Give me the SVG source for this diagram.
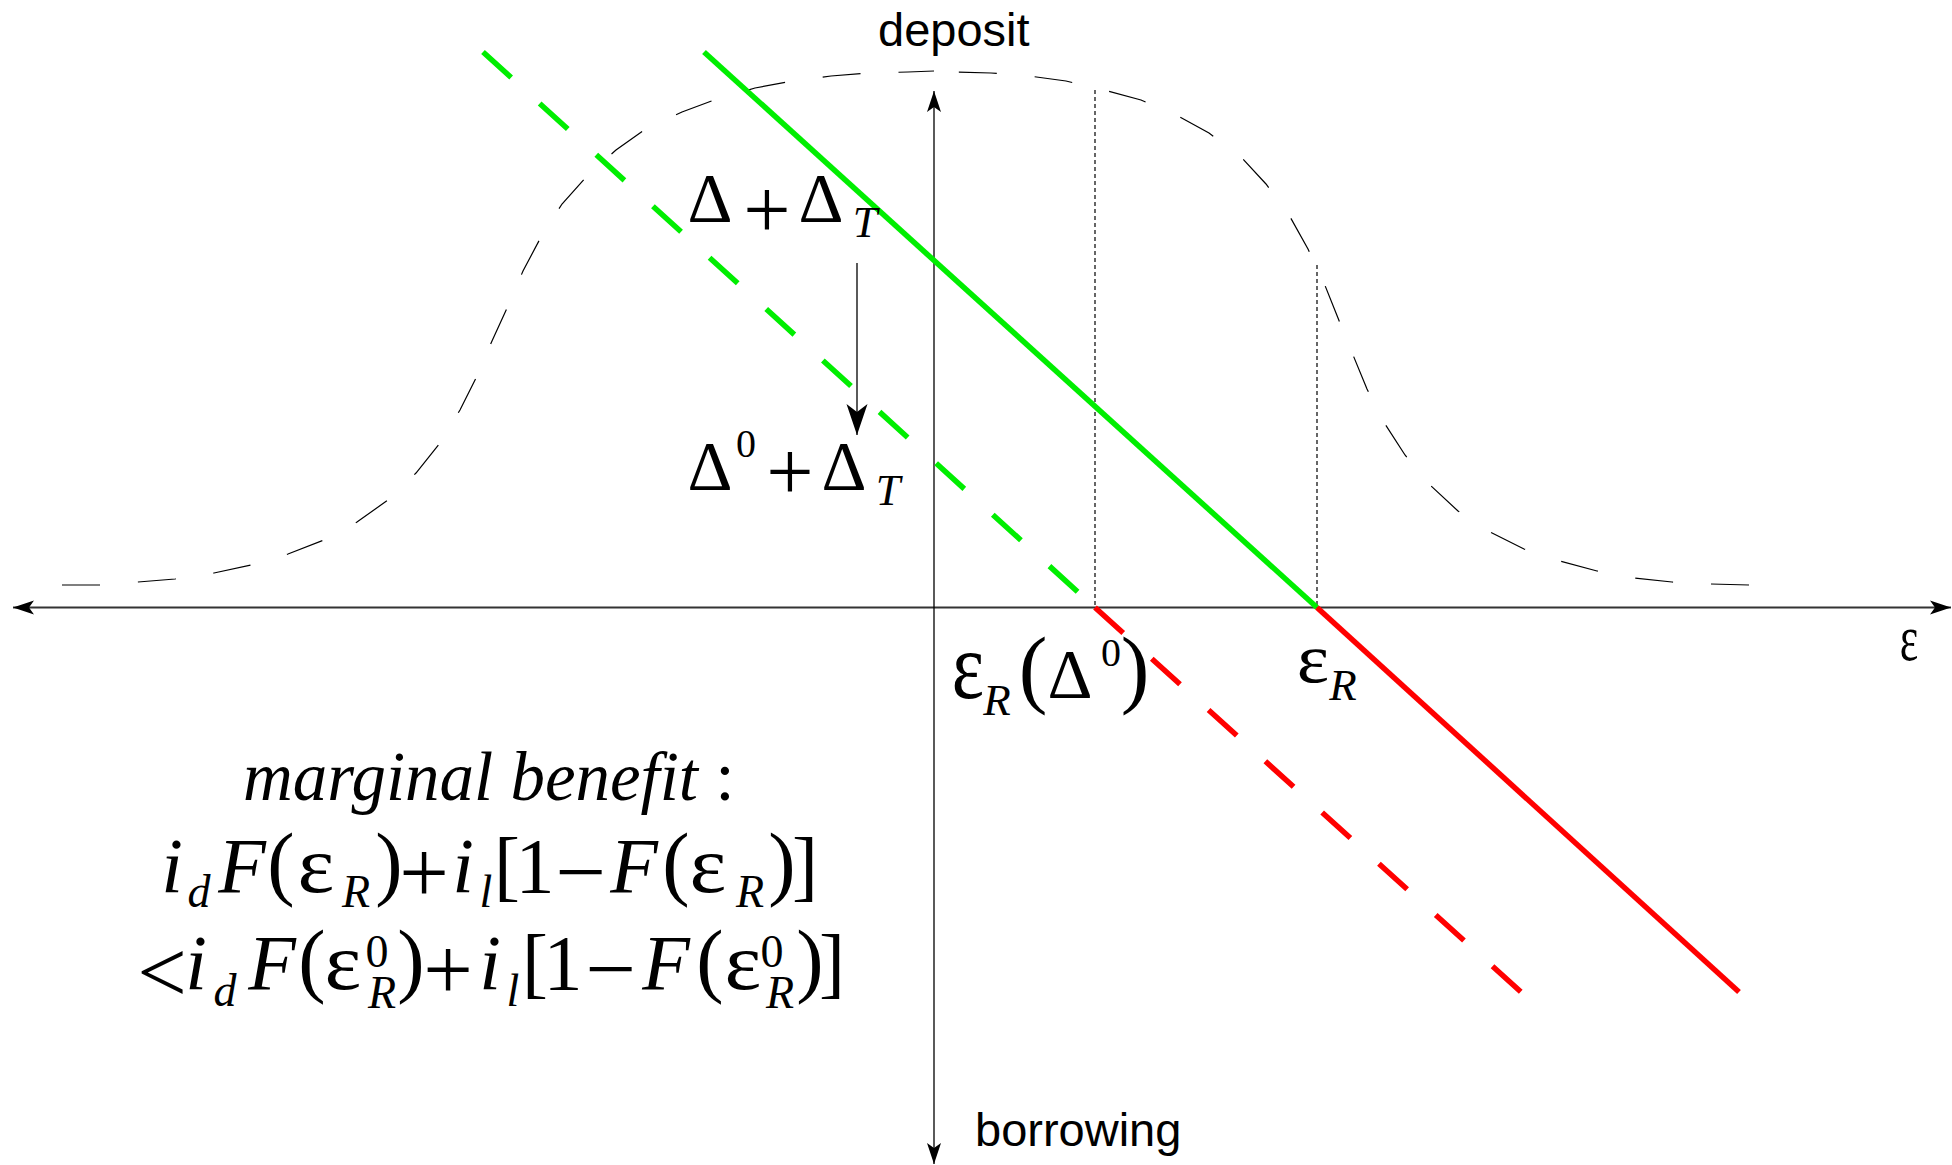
<svg xmlns="http://www.w3.org/2000/svg" width="1952" height="1165" viewBox="0 0 1952 1165">
<defs>
<style>
.sans{font-family:"Liberation Sans",Arial,sans-serif;font-size:47px;fill:#000}
.m{font-family:"Liberation Serif","Times New Roman",serif;fill:#000}
.it{font-style:italic}
.c{text-anchor:middle}
.bell{fill:none;stroke:#000;stroke-width:1.2;stroke-dasharray:38 38}
.dot{fill:none;stroke:#000;stroke-width:1.2;stroke-dasharray:4 3}
.g{stroke:#00ee00;stroke-width:5.5;fill:none}
.r{stroke:#ff0000;stroke-width:5.5;fill:none}
.dash{stroke-dasharray:38 38.5}
</style>
<marker id="ah" markerUnits="userSpaceOnUse" markerWidth="24" markerHeight="16" viewBox="-22 -8 24 16" refX="0" refY="0" orient="auto-start-reverse">
<path d="M0,0 L-21,-7 L-16,0 L-21,7 Z" fill="#000"/>
</marker>
<marker id="ah2" markerUnits="userSpaceOnUse" markerWidth="34" markerHeight="24" viewBox="-32 -12 34 24" refX="0" refY="0" orient="auto">
<path d="M0,0 L-31,-10.5 L-23,0 L-31,10.5 Z" fill="#000"/>
</marker>
</defs>
<rect width="1952" height="1165" fill="#fff"/>

<g id="bell-curve">
<path class="bell" d="M62,585 L100,585 L138,582 L175,579 L214,573 L251,565 L288,554 L324,540 L357,522 L388,500 L416,473 L440,443 L460,410 L477,376 L492,341 L508,306 L523,271 L541,237 L562,204 L587,176 L616,150 L647,128 L682,112 L717,99 L755,88 L792,81 L831,76 L869,73 L908,72 L934,71"/>
<path class="bell" d="M1749,585 L1711,584 L1672,582 L1635,578 L1597,571 L1560,561 L1524,549 L1490,532 L1458,511 L1430,485 L1405,455 L1385,424 L1367,389 L1353,355 L1338,318 L1324,283 L1308,249 L1289,215 L1266,184 L1241,157 L1209,133 L1176,115 L1141,100 L1104,90 L1066,81 L1029,76 L991,73 L952,72 L934,71"/>
</g>

<g id="guides">
<line class="dot" x1="1095" y1="90" x2="1095" y2="607"/>
<line class="dot" x1="1317" y1="265" x2="1317" y2="607"/>
</g>

<g id="axes">
<line x1="13" y1="607.5" x2="1951" y2="607.5" stroke="#333" stroke-width="1.8" marker-start="url(#ah)" marker-end="url(#ah)"/>
<line x1="934" y1="1164" x2="934" y2="91" stroke="#000" stroke-width="1.3" marker-start="url(#ah)" marker-end="url(#ah)"/>
</g>

<g id="connectors">
<line class="g" x1="704" y1="52" x2="1317" y2="607.5"/>
<line class="r" x1="1317" y1="607.5" x2="1739" y2="992"/>
<line class="g dash" x1="483" y1="52" x2="1095" y2="607.5"/>
<line class="r dash" x1="1095" y1="607.5" x2="1521" y2="992"/>
<line x1="857" y1="263" x2="857" y2="435" stroke="#000" stroke-width="1.3" marker-end="url(#ah2)"/>
</g>

<g id="axis-labels">
<text class="sans" x="878" y="46">deposit</text>
<text class="sans" x="975" y="1146">borrowing</text>
<text class="m c" font-size="70" transform="translate(1909,660) scale(0.63,0.94)">ε</text>
</g>

<g id="label-delta">
<text class="m c" font-size="70" x="710" y="222">Δ</text>
<text class="m c" font-size="84" x="767" y="238">+</text>
<text class="m c" font-size="70" x="821" y="222">Δ</text>
<text class="m it c" font-size="44" x="865" y="237">T</text>
</g>

<g id="label-delta0">
<text class="m c" font-size="70" x="710" y="490">Δ</text>
<text class="m c" font-size="40" x="746" y="457">0</text>
<text class="m c" font-size="84" x="790" y="500">+</text>
<text class="m c" font-size="70" x="844" y="490">Δ</text>
<text class="m it c" font-size="44" x="888" y="505">T</text>
</g>

<g id="label-epsR-delta0">
<text class="m c" font-size="70" transform="translate(968,698) scale(1.1,1.37)">ε</text>
<text class="m it c" font-size="45" x="997" y="715">R</text>
<text class="m c" font-size="86" x="1033" y="697">(</text>
<text class="m c" font-size="70" x="1070" y="698">Δ</text>
<text class="m c" font-size="40" x="1111" y="666">0</text>
<text class="m c" font-size="86" x="1135" y="697">)</text>
</g>

<g id="label-epsR">
<text class="m c" font-size="70" transform="translate(1313,682) scale(1.1,1)">ε</text>
<text class="m it c" font-size="45" x="1343" y="700">R</text>
</g>

<g id="marginal-benefit">
<text class="m it" font-size="70" x="243" y="800" textLength="455" lengthAdjust="spacingAndGlyphs">marginal benefit</text>
<text class="m c" font-size="70" x="725" y="800">:</text>

<text class="m it c" font-size="78" x="172" y="892">i</text>
<text class="m it c" font-size="46" x="199" y="907">d</text>
<text class="m it c" font-size="78" x="242" y="892">F</text>
<text class="m c" font-size="82" x="281" y="890">(</text>
<text class="m c" font-size="70" transform="translate(316,892) scale(1.25,1.15)">ε</text>
<text class="m it c" font-size="46" x="356" y="907">R</text>
<text class="m c" font-size="82" x="389" y="890">)</text>
<text class="m c" font-size="88" x="424" y="902">+</text>
<text class="m it c" font-size="78" x="463" y="892">i</text>
<text class="m it c" font-size="46" x="486" y="907">l</text>
<text class="m c" font-size="78" x="507" y="892">[</text>
<text class="m c" font-size="78" x="535" y="892">1</text>
<text class="m c" font-size="90" x="581" y="902">−</text>
<text class="m it c" font-size="78" x="634" y="892">F</text>
<text class="m c" font-size="82" x="676" y="890">(</text>
<text class="m c" font-size="70" transform="translate(708,892) scale(1.25,1.15)">ε</text>
<text class="m it c" font-size="46" x="750" y="907">R</text>
<text class="m c" font-size="82" x="782" y="890">)</text>
<text class="m c" font-size="78" x="805" y="892">]</text>

<text class="m c" font-size="88" x="162" y="1002">&lt;</text>
<text class="m it c" font-size="78" x="196" y="989">i</text>
<text class="m it c" font-size="46" x="225" y="1006">d</text>
<text class="m it c" font-size="78" x="272" y="989">F</text>
<text class="m c" font-size="82" x="312" y="987">(</text>
<text class="m c" font-size="70" transform="translate(343,989) scale(1.25,1.15)">ε</text>
<text class="m c" font-size="46" x="377" y="967">0</text>
<text class="m it c" font-size="46" x="382" y="1008">R</text>
<text class="m c" font-size="82" x="411" y="987">)</text>
<text class="m c" font-size="88" x="448" y="999">+</text>
<text class="m it c" font-size="78" x="490" y="989">i</text>
<text class="m it c" font-size="46" x="513" y="1006">l</text>
<text class="m c" font-size="78" x="535" y="989">[</text>
<text class="m c" font-size="78" x="563" y="989">1</text>
<text class="m c" font-size="90" x="611" y="999">−</text>
<text class="m it c" font-size="78" x="666" y="989">F</text>
<text class="m c" font-size="82" x="710" y="987">(</text>
<text class="m c" font-size="70" transform="translate(743,989) scale(1.25,1.15)">ε</text>
<text class="m c" font-size="46" x="772" y="967">0</text>
<text class="m it c" font-size="46" x="780" y="1008">R</text>
<text class="m c" font-size="82" x="810" y="987">)</text>
<text class="m c" font-size="78" x="832" y="989">]</text>
</g>
</svg>
